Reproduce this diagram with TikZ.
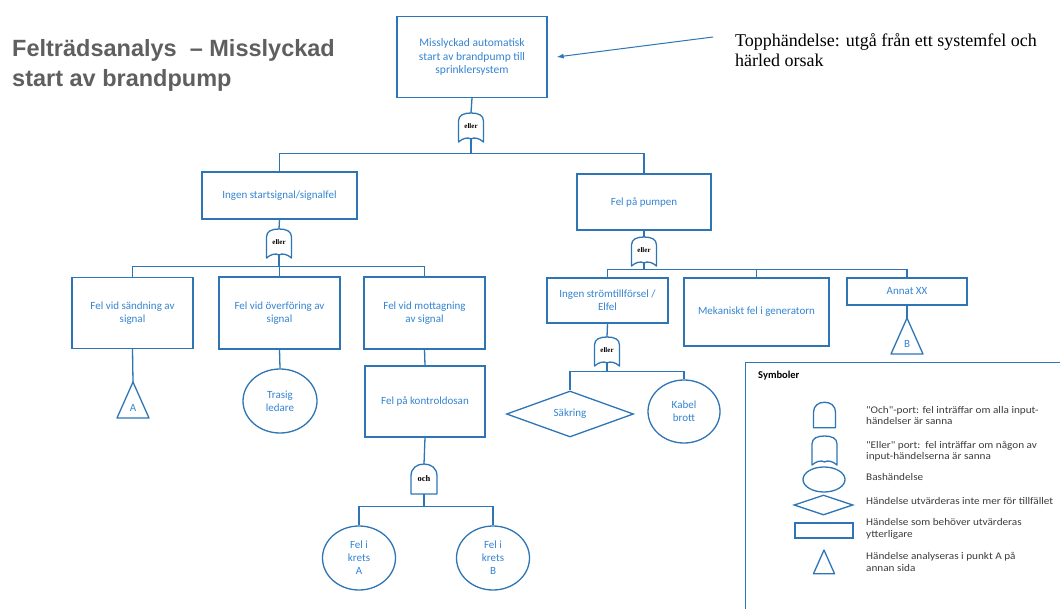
\documentclass[tikz,border=0pt]{standalone}
\usepackage{fontspec}
\setmainfont{Liberation Serif}
\setsansfont{Carlito}
\newfontfamily\titlefont{Liberation Sans}
\newfontfamily\legendfont[FakeStretch=1.1]{Carlito}
\usetikzlibrary{shapes.geometric, arrows.meta, calc}
\definecolor{lineblue}{RGB}{46,117,182}
\definecolor{textblue}{RGB}{52,132,210}
\definecolor{titlegray}{RGB}{95,95,95}
\definecolor{legendtext}{RGB}{60,60,60}

\tikzset{
  event/.style={draw=lineblue, line width=1.3pt, rectangle, inner sep=2pt, align=center,
    text=textblue, font=\sffamily\fontsize{11}{13}\selectfont},
  basic/.style={event, ellipse, minimum width=74pt, minimum height=64pt, inner sep=0pt},
  undev/.style={event, diamond, aspect=2.76, minimum width=127pt, minimum height=46pt, inner sep=0pt},
  gatebox/.style={inner sep=0pt, minimum width=25pt, minimum height=26pt,
    font=\bfseries\fontsize{7}{8}\selectfont},
  wire/.style={draw=lineblue, line width=1.3pt},
  transfer/.style={text=textblue, font=\sffamily\fontsize{11}{13}\selectfont, inner sep=0pt},
  legendlabel/.style={anchor=west, align=left, inner sep=0pt, text=legendtext,
    font=\legendfont\fontsize{10.2}{11.5}\selectfont},
}

% gate outlines round a gate node
\newcommand{\orgate}[2][1]{\draw[wire, line join=round, shift={(#2.center)}, scale=#1]
  (-12.5,16) -- (-12.5,-5) .. controls (-12.5,-11) and (-7,-13) .. (0,-13)
  .. controls (7,-13) and (12.5,-11) .. (12.5,-5) -- (12.5,16)
  .. controls (8,12) and (3,11) .. (0,13) .. controls (-3,11) and (-8,12) .. (-12.5,16) -- cycle;}
\newcommand{\andgate}[2][1]{\draw[wire, line join=round, shift={(#2.center)}, scale=#1]
  (-13,15) -- (-13,-3) .. controls (-13,-11) and (-7,-15) .. (0,-15)
  .. controls (7,-15) and (13,-11) .. (13,-3) -- (13,15) -- cycle;}
% transfer triangle hanging from its apex
\newcommand{\transfertri}[2]{\draw[wire, line join=round, shift={(#1)}, scale=#2]
  (0,0) -- (16,36) -- (-16,36) -- cycle;}

\begin{document}
\begin{tikzpicture}[x=1pt, y=-1pt]
    \useasboundingbox[fill=white] (0,0) rectangle (1060,608);

    % Title
    \node[font=\titlefont\bfseries\fontsize{23.5}{30}\selectfont, text=titlegray, align=left,
      anchor=west, inner sep=0pt] (title) at (12,65) {Felträdsanalys ~– Misslyckad\\start av brandpump};

    % Top event and note
    \node[event, minimum width=150pt, minimum height=81pt, font=\sffamily\fontsize{11.5}{13.5}\selectfont]
      (top) at (472,57) {Misslyckad automatisk\\start av brandpump till\\sprinklersystem};
    \node[font=\fontsize{18}{20}\selectfont, align=left, anchor=west, inner sep=0pt]
      (note) at (735,50) {Topphändelse: utgå från ett systemfel och\\härled orsak};
    \coordinate (notetail) at (713,37);
    \draw[wire, line width=1pt, -{Latex[length=7pt,width=5pt]}] (notetail) -- ($(top.east)+(9,0)$);

    % First gate
    \node[gatebox] (g1) at (471,126) {eller};
    \orgate{g1}
    \draw[wire] (top.south) -- (g1.north);

    % Level 1
    \node[event, minimum width=155pt, minimum height=47pt] (nosig) at (279.5,195.5) {Ingen startsignal/signalfel};
    \node[event, minimum width=134pt, minimum height=56pt] (pump) at (644,202) {Fel på pumpen};
    \draw[wire] (g1.south) -- ++(0,14) -| (nosig.north);
    \draw[wire] (g1.south) -- ++(0,14) -| (pump.north);

    % Signal branch
    \node[gatebox] (g2) at (279,242) {eller};
    \orgate{g2}
    \draw[wire] (nosig.south) -- (g2.north);
    \node[event, minimum width=121pt, minimum height=71pt] (send) at (132.5,313) {Fel vid sändning av\\signal};
    \node[event, minimum width=121pt, minimum height=72pt] (transm) at (279.5,313) {Fel vid överföring av\\signal};
    \node[event, minimum width=121pt, minimum height=72pt] (recv) at (424.5,313) {Fel vid mottagning\\av signal};
    \draw[wire] (g2.south) -- ++(0,11) -| (send.north);
    \draw[wire] (g2.south) -- ++(0,11) -| (transm.north);
    \draw[wire] (g2.south) -- ++(0,11) -| (recv.north);

    \coordinate (triA) at (133,382);
    \transfertri{triA}{1}
    \node[transfer] (labA) at (133,408) {A};
    \draw[wire] (send.south) -- (triA);

    \node[basic] (ledare) at (280,401) {Trasig\\ledare};
    \draw[wire] (transm.south) -- (ledare.north);

    \node[event, minimum width=120pt, minimum height=71pt] (dosa) at (425,401.5) {Fel på kontroldosan};
    \draw[wire] (recv.south) -- (dosa.north);

    \node[gatebox, minimum height=30pt, font=\bfseries\fontsize{8.5}{9}\selectfont] (g5) at (424,479) {och};
    \andgate{g5}
    \draw[wire] (dosa.south) -- (g5.north);
    \node[basic, minimum width=73pt] (kretsA) at (359,558) {Fel i\\krets\\A};
    \node[basic, minimum width=73pt] (kretsB) at (493,558) {Fel i\\krets\\B};
    \draw[wire] (g5.south) -- ++(0,12) -| (kretsA.north);
    \draw[wire] (g5.south) -- ++(0,12) -| (kretsB.north);

    % Pump branch
    \node[gatebox] (g3) at (644,250) {eller};
    \orgate{g3}
    \draw[wire] (pump.south) -- (g3.north);
    \node[event, minimum width=121pt, minimum height=45pt] (strom) at (607.5,300.5) {Ingen strömtillförsel /\\Elfel};
    \node[event, minimum width=145pt, minimum height=68pt] (mek) at (756.5,312) {Mekaniskt fel i generatorn};
    \node[event, minimum width=120pt, minimum height=27pt] (annat) at (907,291.5) {Annat XX};
    \draw[wire] (g3.south) -- ++(0,6) -| (strom.north);
    \draw[wire] (g3.south) -- ++(0,6) -| (mek.north);
    \draw[wire] (g3.south) -- ++(0,6) -| (annat.north);

    \coordinate (triB) at (907,318);
    \transfertri{triB}{1}
    \node[transfer] (labB) at (907,344) {B};
    \draw[wire] (annat.south) -- (triB);

    \node[gatebox] (g4) at (607,350) {eller};
    \orgate{g4}
    \draw[wire] (strom.south) -- (g4.north);
    \node[undev] (sakring) at (570,414) {Säkring};
    \node[basic, minimum width=72pt, minimum height=63pt] (kabel) at (684,411.5) {Kabel\\brott};
    \draw[wire] (g4.south) -- ++(0,8) -| (sakring.north);
    \draw[wire] (g4.south) -- ++(0,8) -| (kabel.north);

    % Legend
    \node[draw=lineblue, line width=1.3pt, anchor=north west, minimum width=330pt, minimum height=260pt]
      (legend) at (745,362) {};
    \node[anchor=west, inner sep=0pt, font=\sffamily\bfseries\fontsize{10.5}{12}\selectfont] (symtitle) at (758,376) {Symboler};

    \node[gatebox, minimum height=25pt] (legand) at (824.5,415) {};
    \andgate[0.85]{legand}
    \node[gatebox] (legor) at (824.5,449) {};
    \orgate{legor}
    \node[event, ellipse, minimum width=42pt, minimum height=25pt, inner sep=0pt] (legbasic) at (824,479.5) {};
    \node[event, diamond, minimum width=59pt, minimum height=20pt, inner sep=0pt] (legundev) at (823.5,505) {};
    \node[event, minimum width=58pt, minimum height=15pt, inner sep=0pt] (legevent) at (824,530.5) {};
    \coordinate (legtri) at (824,550);
    \transfertri{legtri}{0.66}

    \node[legendlabel] (txtand) at (866,415.5) {"Och"-port: fel inträffar om alla input-\\händelser är sanna};
    \node[legendlabel] (txtor) at (866,451) {"Eller" port:\ \ fel inträffar om någon av\\input-händelserna är sanna};
    \node[legendlabel] (txtbasic) at (866,477) {Bashändelse};
    \node[legendlabel] (txtundev) at (866,501) {Händelse utvärderas inte mer för tillfället};
    \node[legendlabel] (txtevent) at (866,529) {Händelse som behöver utvärderas\\ytterligare};
    \node[legendlabel] (txttri) at (866,562) {Händelse analyseras i punkt A på\\annan sida};
\end{tikzpicture}
\end{document}
